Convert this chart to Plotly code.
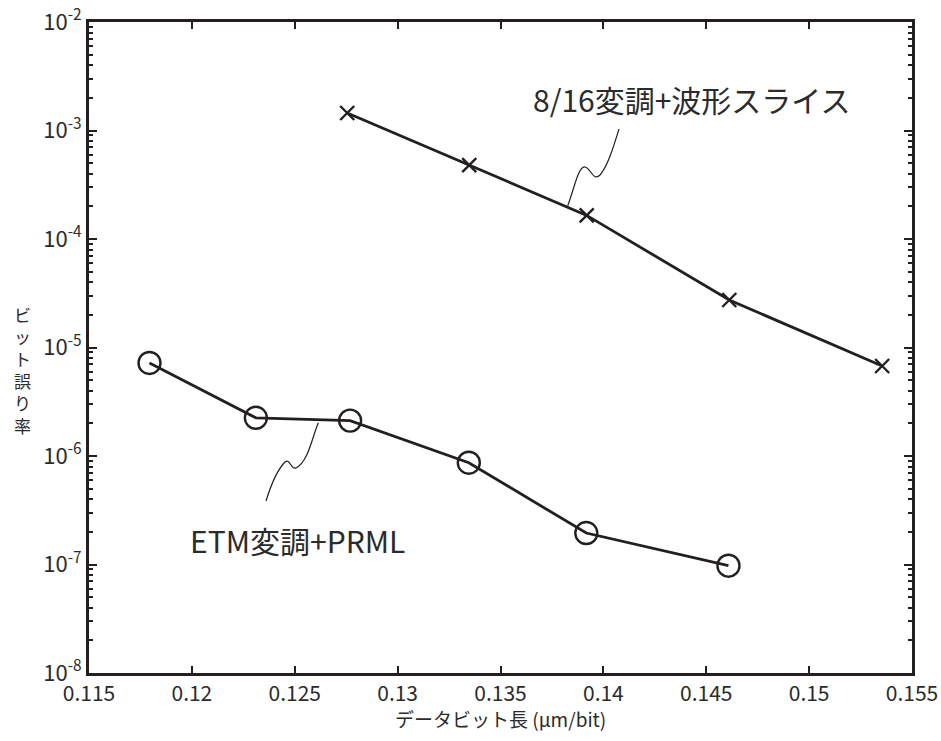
import plotly.graph_objects as go

# ---- data ----
x_816 = [0.12755, 0.13348, 0.13919, 0.14612, 0.15355]
y_816 = [1.45e-3, 4.8e-4, 1.65e-4, 2.74e-5, 6.75e-6]
x_etm = [0.11794, 0.12311, 0.12769, 0.13346, 0.13917, 0.14608]
y_etm = [7.2e-6, 2.25e-6, 2.12e-6, 8.67e-7, 1.95e-7, 9.75e-8]
x_ticks = [0.115, 0.12, 0.125, 0.13, 0.135, 0.14, 0.145, 0.15, 0.155]
x_ticktext = ["0.115", "0.12", "0.125", "0.13", "0.135", "0.14", "0.145", "0.15", "0.155"]
y_exps = [-8, -7, -6, -5, -4, -3, -2]
label_816 = "8/16変調+波形スライス"
label_etm = "ETM変調+PRML"
x_title = "データビット長 (μm/bit)"
y_title = "ビット誤り率"

W, H = 941, 741
L, R, T, B = 89, 29, 22, 68
PW, PH = W - L - R, H - T - B
INK = "#231f20"
TXT = "#2b2b2b"
FONT = "Noto Sans CJK JP"


def px(xp, yp):
    return (xp - L) / PW, (H - B - yp) / PH


def path_from(points):
    x0, y0 = px(*points[0])
    s = f"M {x0:.5f},{y0:.5f}"
    for trip in points[1:]:
        parts = []
        for p in trip:
            a, b = px(*p)
            parts.append(f"{a:.5f},{b:.5f}")
        s += " C " + " ".join(parts)
    return s


fig = go.Figure()
fig.add_trace(go.Scatter(
    x=x_816, y=y_816, mode="lines+markers",
    line=dict(color=INK, width=2.8),
    marker=dict(symbol="x-thin", size=14, line=dict(color=INK, width=2.4), color=INK),
    showlegend=False))
fig.add_trace(go.Scatter(
    x=x_etm, y=y_etm, mode="lines+markers",
    line=dict(color=INK, width=2.8),
    marker=dict(symbol="circle-open", size=22, line=dict(color=INK, width=2.4), color=INK),
    showlegend=False))

minor_vals = [k * 10.0 ** e for e in range(-8, -2) for k in range(2, 10)]

fig.update_xaxes(
    range=[0.115, 0.155], tickvals=x_ticks, ticktext=x_ticktext,
    ticks="inside", ticklen=7, tickwidth=2, tickcolor=INK,
    showline=True, linecolor=INK, linewidth=3, mirror="allticks",
    showgrid=False, zeroline=False, automargin=False,
    tickfont=dict(family=FONT, size=21, color=TXT))
fig.update_yaxes(
    type="log", range=[-8, -2],
    tickvals=[10.0 ** e for e in y_exps],
    ticktext=[f"10<sup>{e}</sup>" for e in y_exps],
    ticks="inside", ticklen=8, tickwidth=2, tickcolor=INK,
    minor=dict(tickvals=minor_vals, ticks="inside", ticklen=4, tickwidth=2, tickcolor=INK, showgrid=False),
    showline=True, linecolor=INK, linewidth=3, mirror="allticks",
    showgrid=False, zeroline=False, automargin=False,
    tickfont=dict(family=FONT, size=22, color=TXT))

ann = []
ann.append(dict(text=label_816, x=px(691, 99)[0], y=px(691, 99)[1], xref="paper", yref="paper",
                showarrow=False, font=dict(family=FONT, size=30, color=TXT), xanchor="center", yanchor="middle"))
ann.append(dict(text=label_etm, x=px(297, 540)[0], y=px(297, 540)[1], xref="paper", yref="paper",
                showarrow=False, font=dict(family=FONT, size=30, color=TXT), xanchor="center", yanchor="middle"))
ann.append(dict(text=x_title, x=px(500, 718)[0], y=px(500, 718)[1], xref="paper", yref="paper",
                showarrow=False, font=dict(family=FONT, size=19, color=TXT), xanchor="center", yanchor="middle"))
ann.append(dict(text="<br>".join(list(y_title)), x=px(22, 370)[0], y=px(22, 370)[1], xref="paper", yref="paper",
                showarrow=False, font=dict(family=FONT, size=17, color=TXT), xanchor="center", yanchor="middle"))

upper = [(567.7, 205.7), [(574, 190), (578, 166), (585, 167)], [(591, 168), (593, 182), (600, 175)], [(608, 166), (614, 145), (619, 129)]]
lower = [(318.3, 422.7), [(312, 438), (308, 462), (296, 468)], [(290, 470), (290, 456), (284, 463)], [(276, 472), (270, 488), (266, 501)]]

shapes = []
for pth in (upper, lower):
    shapes.append(dict(type="path", xref="paper", yref="paper", path=path_from(pth),
                       line=dict(color=INK, width=1.2)))

fig.update_layout(width=W, height=H, margin=dict(l=L, r=R, t=T, b=B, autoexpand=False),
                  plot_bgcolor="white", paper_bgcolor="white",
                  annotations=ann, shapes=shapes)
fig.write_html("out.html", config={"displayModeBar": False},
               post_script="document.body.style.margin='0';document.body.style.padding='0';document.body.style.overflow='hidden';")
